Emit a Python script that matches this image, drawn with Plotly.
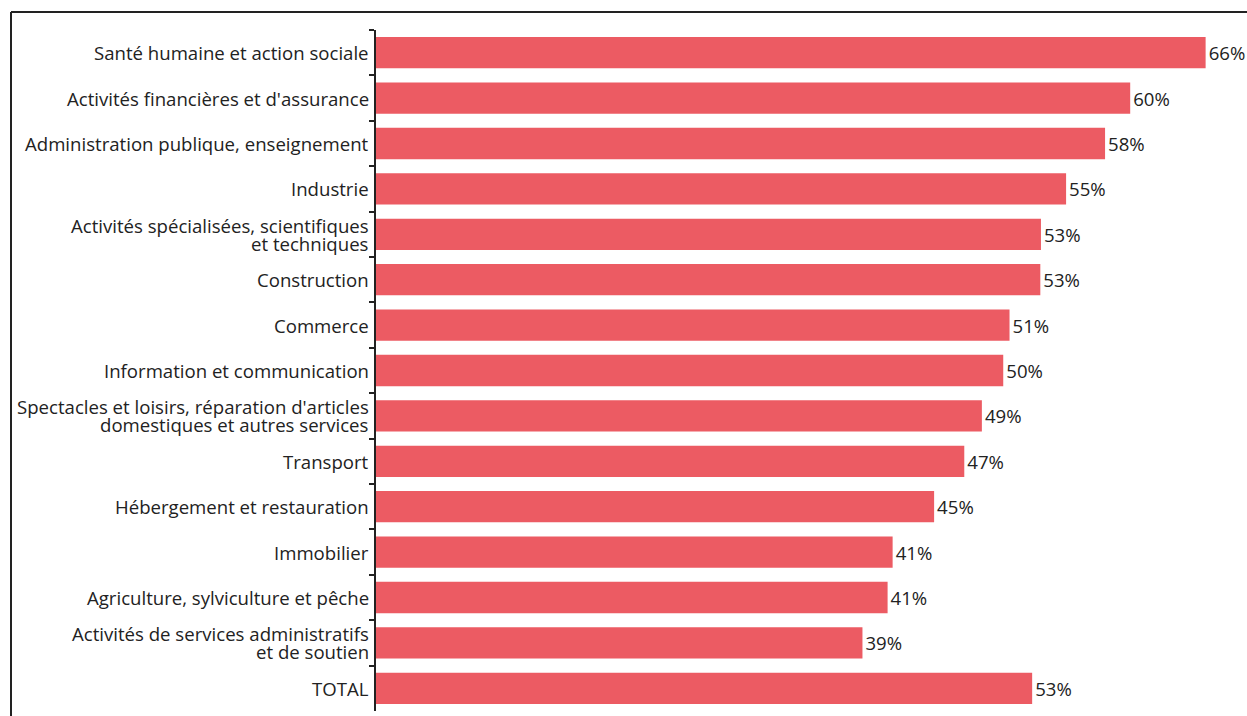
import plotly.graph_objects as go

categories = [
    "Santé humaine et action sociale",
    "Activités financières et d'assurance",
    "Administration publique, enseignement",
    "Industrie",
    "Activités spécialisées, scientifiques<br>et techniques",
    "Construction",
    "Commerce",
    "Information et communication",
    "Spectacles et loisirs, réparation d'articles<br>domestiques et autres services",
    "Transport",
    "Hébergement et restauration",
    "Immobilier",
    "Agriculture, sylviculture et pêche",
    "Activités de services administratifs<br>et de soutien",
    "TOTAL",
]
values = [66.0, 60.0, 58.0, 54.9, 52.9, 52.85, 50.4, 49.9, 48.2, 46.8, 44.4, 41.1, 40.7, 38.7, 52.2]
labels = ["66%", "60%", "58%", "55%", "53%", "53%", "51%", "50%", "49%", "47%", "45%", "41%", "41%", "39%", "53%"]

W, H = 1247, 716
ML, MR, MT, MB = 376, 10, 30, 5
pw = W - ML - MR
ph = H - MT - MB
FONT = "Open Sans"
FS = 18.6
LINE_H = 18

def px_to_paper_x(px):
    return (px - ML) / pw

def px_to_paper_y(py):
    return 1 - (py - MT) / ph

fig = go.Figure(go.Bar(
    x=values,
    y=categories,
    orientation="h",
    text=labels,
    textposition="outside",
    textfont=dict(family=FONT, size=FS, color="#222222"),
    marker=dict(color="#EC5B63", line=dict(width=0)),
    cliponaxis=False,
    hoverinfo="skip",
))

annotations = []
for cat in categories:
    lines = cat.split("<br>")
    n = len(lines)
    for i, ln in enumerate(lines):
        offset = ((n - 1) / 2 - i) * LINE_H
        annotations.append(dict(
            xref="paper", yref="y", x=0, y=cat,
            text=ln, showarrow=False,
            xanchor="right", yanchor="middle",
            xshift=-5, yshift=offset,
            font=dict(family=FONT, size=FS, color="#222222"),
        ))

fig.update_layout(
    width=W, height=H,
    margin=dict(l=ML, r=MR, t=MT, b=MB, pad=0),
    paper_bgcolor="white",
    plot_bgcolor="white",
    bargap=0.31,
    showlegend=False,
    font=dict(family=FONT, size=FS, color="#222222"),
    xaxis=dict(range=[0, pw / 12.57], visible=False, fixedrange=True),
    yaxis=dict(
        autorange="reversed",
        type="category",
        tickson="boundaries",
        ticks="outside",
        ticklen=5,
        tickwidth=1.5,
        tickcolor="#222222",
        showline=True,
        linecolor="#222222",
        linewidth=1.5,
        showgrid=False,
        showticklabels=False,
        fixedrange=True,
    ),
    annotations=annotations,
    shapes=[
        dict(type="line", xref="paper", yref="paper",
             x0=px_to_paper_x(11), x1=px_to_paper_x(W + 20),
             y0=px_to_paper_y(12), y1=px_to_paper_y(12),
             line=dict(color="#222222", width=2)),
        dict(type="line", xref="paper", yref="paper",
             x0=px_to_paper_x(11), x1=px_to_paper_x(11),
             y0=px_to_paper_y(12), y1=px_to_paper_y(H + 20),
             line=dict(color="#222222", width=2)),
    ],
)

fig.write_html("out.html")
